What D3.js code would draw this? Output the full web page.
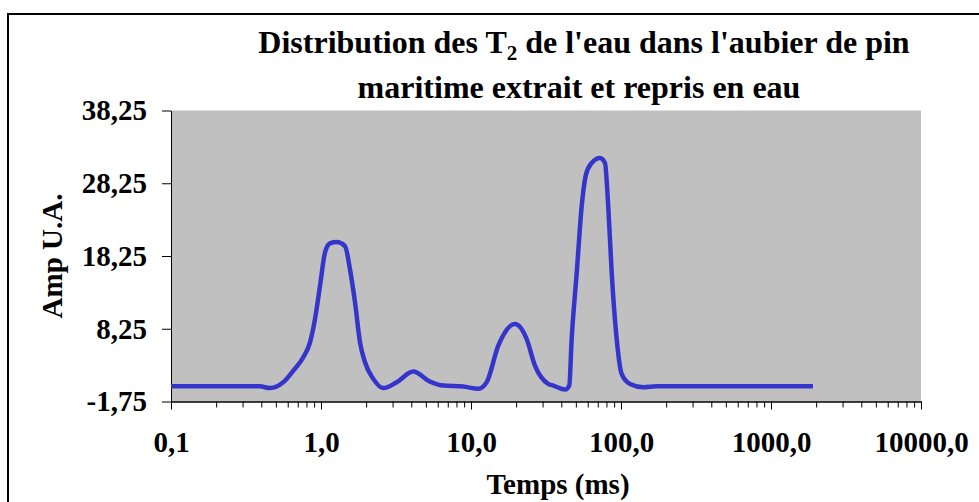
<!DOCTYPE html>
<html>
<head>
<meta charset="utf-8">
<script src="https://cdn.jsdelivr.net/npm/d3@7"></script>
<style>
  body { margin: 0; background: #fff; }
  text { font-family: "Liberation Serif", "Times New Roman", serif; font-weight: bold; fill: #000; }
</style>
</head>
<body>
<svg id="chart" width="979" height="502"></svg>
<script>
// T2 relaxation times (ms) and amplitude
const temps = [0.1, 0.247, 0.392, 0.457, 0.561, 0.654, 0.762, 0.845, 0.912, 0.985,
    1.063, 1.148, 1.273, 1.445, 1.56, 1.686, 1.82, 1.965, 2.232, 2.6,
    3.2, 4.12, 5.33, 6.53, 8.89, 11.19, 12.73, 15.2, 19.64, 23.5,
    26.7, 32.7, 35.4, 42.4, 45.2, 46.9, 50.7, 54.7, 58.4, 63.8,
    72.4, 78.2, 82.2, 86.7, 93.6, 101, 114.8, 140.8, 173, 247, 1905];
const amp = [0.36, 0.36, 0.33, 0.09, 0.91, 2.5, 4.33, 6.39, 9.58, 14.14,
    18.72, 19.99, 20.17, 19.62, 16.43, 11.87, 6.39, 3.65, 1.36, 0.09,
    0.91, 2.36, 0.99, 0.44, 0.30, -0.01, 0.91, 5.92, 8.89, 6.84,
    3.18, 0.67, 0.44, -0.11, 0.44, 6.84, 15.98, 25.1, 29.44, 31.04,
    31.73, 31.04, 25.1, 15.98, 6.84, 2.04, 0.67, 0.22, 0.36, 0.36, 0.36];
const yTicks = [-1.75, 8.25, 18.25, 28.25, 38.25];
const xTicks = [0.1, 1, 10, 100, 1000, 10000];
const xTickLabels = ["0,1", "1,0", "10,0", "100,0", "1000,0", "10000,0"];

const svg = d3.select("#chart");
// plot area in pixels
const plotLeft = 171, plotRight = 921, plotTop = 110.5, plotBottom = 401.5;

const x = d3.scaleLog().domain([0.1, 10000]).range([plotLeft, plotRight]);
const y = d3.scaleLinear().domain([-1.75, 38.25]).range([plotBottom, plotTop]);

// outer frame
svg.append("rect")
    .attr("x", 8).attr("y", 14)
    .attr("width", 1000).attr("height", 600)
    .attr("fill", "none")
    .attr("stroke", "#000")
    .attr("stroke-width", 2);

// grey plot background
svg.append("rect")
    .attr("x", plotLeft).attr("y", plotTop)
    .attr("width", plotRight - plotLeft).attr("height", plotBottom - plotTop)
    .attr("fill", "#c0c0c0");

// minor ticks on the log axis
const minorTicks = [];
for (let d = 0.1; d < 10000; d *= 10) {
    for (let k = 2; k <= 9; k++) minorTicks.push(d * k);
}

svg.append("g")
    .attr("transform", `translate(0,${plotBottom})`)
    .call(d3.axisBottom(x).tickValues(minorTicks).tickSize(6).tickSizeOuter(0).tickFormat(""));
const xAxis = svg.append("g")
    .attr("transform", `translate(0,${plotBottom})`)
    .call(d3.axisBottom(x).tickValues(xTicks).tickSize(8).tickSizeOuter(0)
        .tickFormat((d, i) => xTickLabels[i]));
xAxis.selectAll("text")
    .attr("y", 30)
    .attr("dy", "0.71em")
    .style("font-size", "29px");

const yAxis = svg.append("g")
    .attr("transform", `translate(${plotLeft},0)`)
    .call(d3.axisLeft(y).tickValues(yTicks).tickSize(9).tickSizeOuter(0).tickPadding(15)
        .tickFormat(d => d.toFixed(2).replace(".", ",")));
yAxis.selectAll("text").style("font-size", "29px");

svg.selectAll(".domain, .tick line").attr("stroke", "#000").attr("stroke-width", 1);

// T2 distribution curve
const line = d3.line()
    .x((d, i) => x(temps[i]))
    .y(d => y(d))
    .curve(d3.curveMonotoneX);
svg.append("path")
    .datum(amp)
    .attr("d", line)
    .attr("fill", "none")
    .attr("stroke", "#3535cc")
    .attr("stroke-width", 4.5)
    .attr("stroke-linejoin", "round");

// titles
const title = svg.append("text")
    .attr("x", 584).attr("y", 53)
    .attr("text-anchor", "middle")
    .style("font-size", "32px");
title.append("tspan").text("Distribution des T");
title.append("tspan").attr("dy", 7).style("font-size", "21px").text("2");
title.append("tspan").attr("dy", -7).text(" de l'eau dans l'aubier de pin");
svg.append("text")
    .attr("x", 579).attr("y", 98)
    .attr("text-anchor", "middle")
    .style("font-size", "32px")
    .text("maritime extrait et repris en eau");

svg.append("text")
    .attr("x", 558).attr("y", 494)
    .attr("text-anchor", "middle")
    .style("font-size", "29px")
    .text("Temps (ms)");

svg.append("text")
    .attr("transform", `translate(62,256) rotate(-90)`)
    .attr("text-anchor", "middle")
    .style("font-size", "29px")
    .text("Amp U.A.");
</script>
</body>
</html>
